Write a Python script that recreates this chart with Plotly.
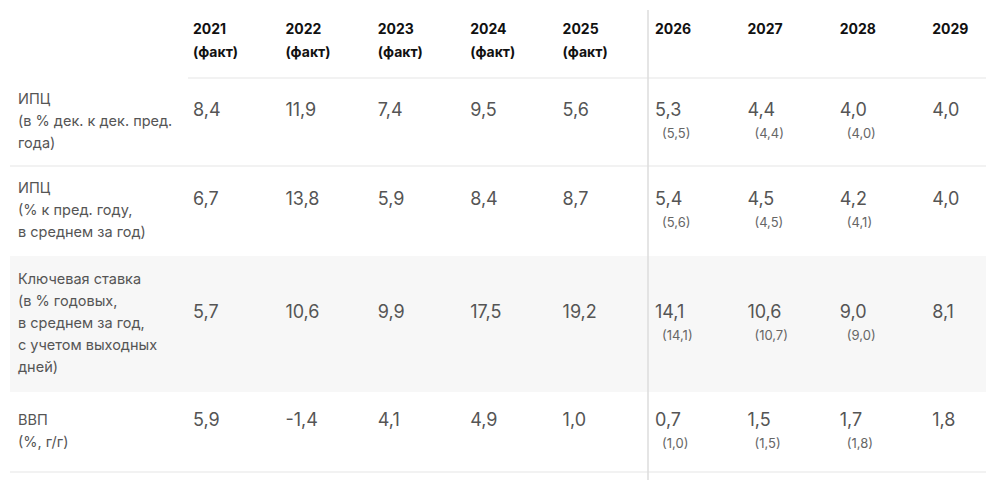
import plotly.graph_objects as go

# column headers
years = ['2021', '2022', '2023', '2024', '2025', '2026', '2027', '2028', '2029']
n_fact = 5  # first five columns are actuals

# row labels (one entry per printed line)
row_labels = [
    ['ИПЦ', '(в % дек. к дек. пред.', 'года)'],
    ['ИПЦ', '(% к пред. году,', 'в среднем за год)'],
    ['Ключевая ставка', '(в % годовых,', 'в среднем за год,', 'с учетом выходных', 'дней)'],
    ['ВВП', '(%, г/г)'],
]

# forecast values and previous forecast (in brackets)
cpi_dec = [8.4, 11.9, 7.4, 9.5, 5.6, 5.3, 4.4, 4.0, 4.0]
cpi_dec_prev = [None, None, None, None, None, 5.5, 4.4, 4.0, None]
cpi_avg = [6.7, 13.8, 5.9, 8.4, 8.7, 5.4, 4.5, 4.2, 4.0]
cpi_avg_prev = [None, None, None, None, None, 5.6, 4.5, 4.1, None]
key_rate = [5.7, 10.6, 9.9, 17.5, 19.2, 14.1, 10.6, 9.0, 8.1]
key_rate_prev = [None, None, None, None, None, 14.1, 10.7, 9.0, None]
gdp = [5.9, -1.4, 4.1, 4.9, 1.0, 0.7, 1.5, 1.7, 1.8]
gdp_prev = [None, None, None, None, None, 1.0, 1.5, 1.8, None]

rows = [(cpi_dec, cpi_dec_prev), (cpi_avg, cpi_avg_prev),
        (key_rate, key_rate_prev), (gdp, gdp_prev)]


def fmt(v):
    return f"{v:.1f}".replace('.', ',')


FONT = 'Inter'
col_x = [193 + i * 92.4 for i in range(len(years))]
label_top = [100, 189, 280, 421]   # y of first label line
value_y = [111, 200, 313, 421]     # y of main value

fig = go.Figure()

# header
fig.add_trace(go.Scatter(x=col_x, y=[30] * len(years), text=years, mode='text',
                         textposition='middle right',
                         textfont=dict(family=FONT, size=14, color='#111', weight='bold'),
                         hoverinfo='skip'))
fig.add_trace(go.Scatter(x=col_x[:n_fact], y=[53] * n_fact, text=['(факт)'] * n_fact, mode='text',
                         textposition='middle right',
                         textfont=dict(family=FONT, size=14, color='#111', weight='bold'),
                         hoverinfo='skip'))

for r, (vals, prev) in enumerate(rows):
    lines = row_labels[r]
    fig.add_trace(go.Scatter(x=[18] * len(lines), y=[label_top[r] + k * 22 for k in range(len(lines))],
                             text=lines, mode='text', textposition='middle right',
                             textfont=dict(family=FONT, size=14.5, color='#555'),
                             hoverinfo='skip'))
    fig.add_trace(go.Scatter(x=col_x, y=[value_y[r]] * len(vals), text=[fmt(v) for v in vals],
                             mode='text', textposition='middle right',
                             textfont=dict(family=FONT, size=18, color='#555'),
                             hoverinfo='skip'))
    px = [col_x[i] + 7 for i, p in enumerate(prev) if p is not None]
    pt = ['(' + fmt(p) + ')' for p in prev if p is not None]
    fig.add_trace(go.Scatter(x=px, y=[value_y[r] + 24] * len(px), text=pt,
                             mode='text', textposition='middle right',
                             textfont=dict(family=FONT, size=13, color='#666'),
                             hoverinfo='skip'))

# table decorations
fig.add_shape(type='rect', x0=10, x1=986, y0=256, y1=392, fillcolor='#f7f7f7',
              line_width=0, layer='below')
for y0, x0 in [(78, 188), (166, 10), (472, 10)]:
    fig.add_shape(type='line', x0=x0, x1=986, y0=y0, y1=y0, line=dict(color='#eeeeee', width=1.5))
fig.add_shape(type='line', x0=648, x1=648, y0=10, y1=480, line=dict(color='#dddddd', width=1.5))

fig.update_layout(
    width=986, height=480,
    margin=dict(l=0, r=0, t=0, b=0),
    paper_bgcolor='white', plot_bgcolor='white',
    showlegend=False,
    xaxis=dict(range=[0, 986], visible=False, fixedrange=True),
    yaxis=dict(range=[480, 0], visible=False, fixedrange=True),
)

# drop the default page margin so the figure sits at the window corner
fig.write_html("out.html", config={'displayModeBar': False},
               post_script="document.body.style.margin='0';")
